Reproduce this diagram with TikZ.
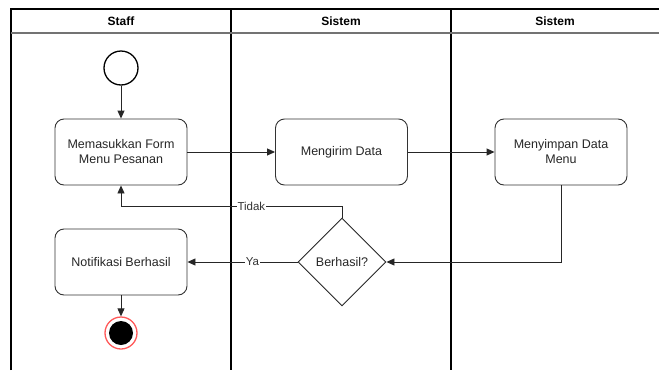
\documentclass[tikz,border=0pt]{standalone}
\usepackage{fontspec}
\setmainfont{Liberation Sans}
\usetikzlibrary{shapes.geometric,arrows.meta}
\tikzset{
  lane/.style={line width=1.3pt,black},
  activity/.style={draw=black!80,line width=0.9pt,rounded corners=9pt,minimum width=132pt,minimum height=66pt,align=center,font=\fontsize{12.5}{15}\selectfont,text=black!85,inner sep=2pt},
  decision/.style={draw=black!85,line width=0.9pt,diamond,aspect=1,minimum width=88pt,minimum height=88pt,inner sep=0pt,font=\fontsize{12.5}{15}\selectfont,text=black!85},
  flow/.style={line width=0.9pt,black!85,-{Triangle[length=8pt,width=7pt]}},
  edgelabel/.style={fill=white,inner sep=1pt,font=\fontsize{11.5}{13}\selectfont,text=black!80},
  head/.style={font=\bfseries\fontsize{12}{14}\selectfont}
}
\begin{document}
\begin{tikzpicture}[x=1pt,y=-1pt]
\useasboundingbox (0,0) rectangle (659,370);
% swimlane frame
\draw[lane] (11,370) -- (11,9) -- (659,9);
\draw[lane] (231,9) -- (231,370);
\draw[lane] (451,9) -- (451,370);
\draw[line width=1.2pt,black!55] (11,33) -- (659,33);
\node[head] (h1) at (121,21) {Staff};
\node[head] (h2) at (341,21) {Sistem};
\node[head] (h3) at (555,21) {Sistem};
% start node
\node[circle,draw=black,line width=1.3pt,minimum size=34pt,inner sep=0pt] (start) at (121,68) {};
% activities
\node[activity] (input) at (121,152) {Memasukkan Form\\Menu Pesanan};
\node[activity] (send) at (341.5,152) {Mengirim Data};
\node[activity] (store) at (561,152) {Menyimpan Data\\Menu};
\node[decision] (check) at (342,262) {Berhasil?};
\node[activity] (notify) at (121,262) {Notifikasi Berhasil};
% end node
\node[circle,draw=red!65,line width=1.3pt,minimum size=32pt,inner sep=0pt] (endring) at (121,333) {};
\node[circle,fill=black,minimum size=24pt,inner sep=0pt] (enddot) at (121,333) {};
% flows
\draw[flow] (start) -- (input);
\draw[flow] (input) -- (send);
\draw[flow] (send) -- (store);
\draw[flow] (store.south) |- (check.east);
\draw[flow] (check.north) -- ++(0,-11) -| node[edgelabel,pos=0.205] {Tidak} (input.south);
\draw[flow] (check.west) -- node[edgelabel,pos=0.41] {Ya} (notify.east);
\draw[flow] (notify.south) -- (endring.north);
\end{tikzpicture}
\end{document}
